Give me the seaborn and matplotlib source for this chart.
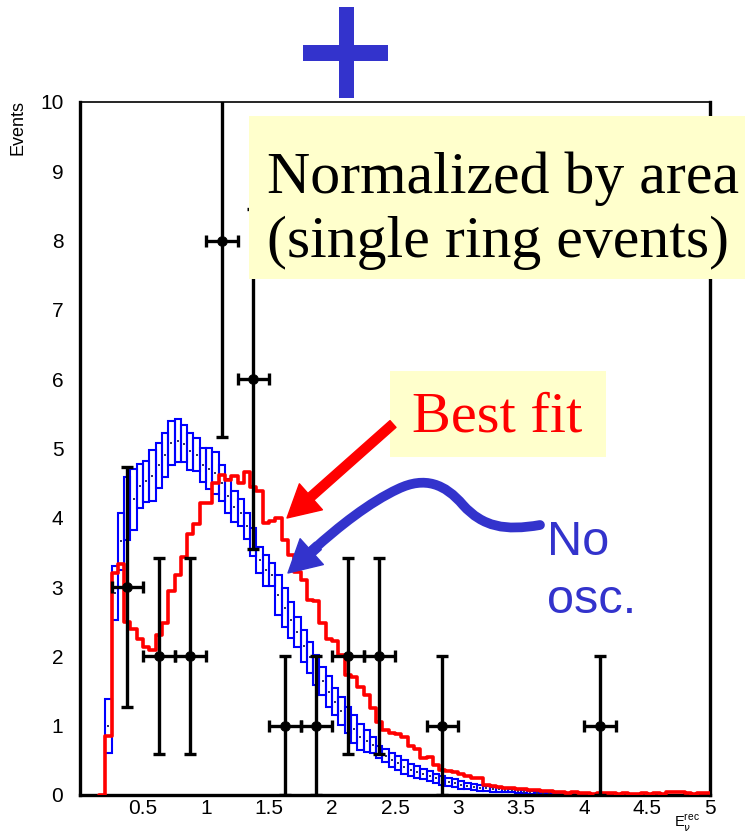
import numpy as np
import pandas as pd
import matplotlib
matplotlib.use("Agg")
import matplotlib.pyplot as plt
import seaborn as sns
from matplotlib.patches import Rectangle, FancyArrowPatch, PathPatch
from matplotlib.path import Path
from matplotlib.ticker import MultipleLocator, FuncFormatter

# ---------------- data ----------------
BIN_W = 0.05

# best-fit expectation (red step histogram), 0.05-wide bins starting at 0.15
red_start = 0.15
red_counts = [
    0.00, 0.85, 3.20, 3.33, 2.50, 2.39, 2.25, 2.13, 2.09, 2.31,
    2.48, 2.95, 3.17, 3.43, 3.77, 3.91, 4.21, 4.21, 4.50, 4.62,
    4.55, 4.60, 4.50, 4.66, 4.45, 4.39, 3.93, 3.95, 4.00, 3.68,
    3.46, 3.22, 3.10, 2.82, 2.80, 2.48, 2.25, 2.22, 2.02, 1.73,
    1.70, 1.56, 1.44, 1.25, 1.06, 0.94, 0.89, 0.88, 0.84, 0.70,
    0.67, 0.53, 0.55, 0.43, 0.36, 0.35, 0.33, 0.31, 0.27, 0.25,
    0.24, 0.14, 0.13, 0.11, 0.10, 0.10, 0.09, 0.08, 0.07, 0.07,
    0.06, 0.06, 0.04, 0.04, 0.03, 0.04, 0.03, 0.03, 0.02, 0.03,
    0.03, 0.03, 0.02, 0.03, 0.02, 0.02, 0.03, 0.02, 0.03, 0.02,
    0.04, 0.05, 0.04, 0.03, 0.02, 0.03, 0.03,
]

# no-oscillation expectation (blue error boxes), 0.05-wide bins starting at 0.20
blue_start = 0.20
blue_low = [
    0.60, 2.52, 3.25, 3.68, 3.83, 4.14, 4.23, 4.24, 4.43, 4.59,
    4.76, 4.81, 4.80, 4.69, 4.67, 4.51, 4.42, 4.34, 4.24, 4.07,
    3.94, 3.88, 3.70, 3.45, 3.20, 3.02, 3.01, 2.60, 2.43, 2.26,
    2.14, 1.92, 1.76, 1.59, 1.44, 1.27, 1.15, 1.01, 0.89, 0.75,
    0.65, 0.62, 0.60, 0.53, 0.47, 0.41, 0.36, 0.31, 0.27, 0.25,
    0.23, 0.20, 0.18, 0.15, 0.13, 0.11, 0.09, 0.08, 0.07, 0.06,
    0.06, 0.05, 0.05, 0.04, 0.04, 0.03, 0.03, 0.02, 0.02, 0.02,
    0.01, 0.01, 0.01, 0.01, 0.01, 0.00, 0.00, 0.00, 0.00, 0.00, 0.00,
]
blue_high = [
    1.38, 3.30, 4.07, 4.59, 4.70, 4.78, 4.82, 4.98, 5.08, 5.23,
    5.40, 5.42, 5.34, 5.23, 5.15, 5.00, 5.00, 4.95, 4.76, 4.56,
    4.38, 4.27, 4.07, 3.85, 3.58, 3.46, 3.35, 3.17, 2.98, 2.79,
    2.57, 2.38, 2.21, 2.02, 1.85, 1.71, 1.54, 1.42, 1.27, 1.15,
    1.03, 0.94, 0.83, 0.70, 0.66, 0.61, 0.56, 0.50, 0.45, 0.42,
    0.37, 0.34, 0.31, 0.28, 0.25, 0.23, 0.20, 0.18, 0.16, 0.15,
    0.13, 0.12, 0.11, 0.10, 0.09, 0.08, 0.07, 0.06, 0.05, 0.05,
    0.04, 0.04, 0.03, 0.03, 0.03, 0.02, 0.02, 0.02, 0.02, 0.01, 0.01,
]

# observed events (0.25-wide bins)
data_x = [0.375, 0.625, 0.875, 1.125, 1.375, 1.625, 1.875, 2.125, 2.375, 2.875, 4.125]
data_n = [3, 2, 2, 8, 6, 1, 1, 2, 2, 1, 1]
data_xerr = 0.125

# ---------------- style ----------------
sns.set_theme(style="white")
plt.rcParams["font.family"] = ["Liberation Sans", "DejaVu Sans"]
plt.rcParams["text.color"] = "black"
plt.rcParams["xtick.color"] = "black"
plt.rcParams["ytick.color"] = "black"

RED = "#FF0000"
BLUE = "#0000FF"
INK = "#3333CC"
PALE = "#FFFFCC"

W, H = 745, 833
fig = plt.figure(figsize=(W / 100, H / 100), dpi=100)
ax = fig.add_axes([80 / W, 1 - 795 / H, 630 / W, 693 / H])


def fx(px):
    return px / W


def fy(py):
    return 1 - py / H


# red best-fit histogram
red_edges = red_start + BIN_W * np.arange(len(red_counts) + 1)
red_df = pd.DataFrame({"energy": red_edges[:-1] + BIN_W / 2,
                       "events": np.array(red_counts, dtype=float)})
sns.histplot(data=red_df, x="energy", weights="events", bins=list(red_edges),
             element="step", fill=False, color=RED, linewidth=2.6, ax=ax, zorder=3)

# blue no-oscillation boxes
blue_lo = np.array(blue_low)
blue_hi = np.array(blue_high)
blue_centers = blue_start + BIN_W * (np.arange(len(blue_lo)) + 0.5)
ax.bar(blue_centers, blue_hi - blue_lo, bottom=blue_lo, width=BIN_W, fill=False,
       edgecolor=BLUE, linewidth=1.5, zorder=2)
ax.scatter(blue_centers, (blue_lo + blue_hi) / 2, s=1.5, marker="s",
           color="#333366", linewidths=0, zorder=2)

# observed data with Poisson errors
dx = np.array(data_x)
dn = np.array(data_n, dtype=float)
ax.errorbar(dx, dn, yerr=np.sqrt(dn), xerr=data_xerr, fmt="none", ecolor="black",
            elinewidth=2.4, capsize=4.5, capthick=2.4, zorder=4)
sns.scatterplot(x=dx, y=dn, color="black", s=50, edgecolor="black", ax=ax, zorder=5)

# axes
ax.set_xlim(0, 5)
ax.set_ylim(0, 10)
ax.set_xlabel("")
ax.set_ylabel("")
ax.xaxis.set_major_locator(MultipleLocator(0.5))
ax.xaxis.set_minor_locator(MultipleLocator(0.1))
ax.yaxis.set_major_locator(MultipleLocator(1))
ax.yaxis.set_minor_locator(MultipleLocator(0.2))
ax.xaxis.set_major_formatter(FuncFormatter(lambda v, p: "" if abs(v) < 1e-9 else f"{v:g}"))
ax.yaxis.set_major_formatter(FuncFormatter(lambda v, p: f"{v:g}"))
ax.tick_params(which="both", direction="in", top=False, right=False, colors="black",
               labelsize=15)
ax.tick_params(which="major", length=11, width=1.3)
ax.tick_params(which="minor", length=6, width=1.0)
ax.tick_params(axis="y", pad=12)
ax.tick_params(axis="x", pad=3)
for side in ("left", "bottom", "right"):
    ax.spines[side].set_linewidth(2.4)
    ax.spines[side].set_color("black")
ax.spines["top"].set_linewidth(1.2)
ax.spines["top"].set_color("black")

fig.text(fx(18), fy(100), "Events", rotation=90, ha="center", va="top", fontsize=13)
fig.text(fx(700), fy(834), r"E$_{\nu}^{\mathregular{rec}}$", ha="right", va="bottom",
         fontsize=10.5)

# big plus sign above the frame
fig.patches.append(Rectangle((fx(303), fy(61)), (388 - 303) / W, 16 / H,
                             transform=fig.transFigure, facecolor=INK, edgecolor="none"))
fig.patches.append(Rectangle((fx(339), fy(98)), 15 / W, 91 / H,
                             transform=fig.transFigure, facecolor=INK, edgecolor="none"))

# note box
fig.patches.append(Rectangle((fx(249), fy(279)), (W - 249) / W, (279 - 116) / H,
                             transform=fig.transFigure, facecolor=PALE,
                             edgecolor="none", zorder=10))
serif = ["Liberation Serif", "DejaVu Serif"]
fig.text(fx(267), fy(193), "Normalized by area", fontsize=43, family=serif,
         color="black", va="baseline", ha="left", zorder=11)
fig.text(fx(267), fy(257), "(single ring events)", fontsize=43, family=serif,
         color="black", va="baseline", ha="left", zorder=11)

# best fit label
fig.patches.append(Rectangle((fx(390), fy(457)), (606 - 390) / W, (457 - 371) / H,
                             transform=fig.transFigure, facecolor=PALE,
                             edgecolor="none", zorder=10))
fig.text(fx(412), fy(432), "Best fit", fontsize=42, family=serif, color=RED,
         va="baseline", ha="left", zorder=11)
fig.patches.append(FancyArrowPatch(
    (fx(393), fy(424)), (fx(287), fy(518)), transform=fig.transFigure,
    arrowstyle="simple,head_length=2.3,head_width=2.5,tail_width=0.65",
    mutation_scale=10, color=RED, shrinkA=0, shrinkB=0, zorder=10))

# no oscillation label with curved pointer
fig.text(fx(547), fy(555), "No", fontsize=35, color=INK, va="baseline", ha="left", zorder=11)
fig.text(fx(547), fy(613), "osc.", fontsize=35, color=INK, va="baseline", ha="left", zorder=11)
curve_px = [(540, 525),
            (505, 531), (483, 527), (463, 505),
            (445, 484), (425, 476), (398, 489),
            (370, 502), (338, 527), (313, 550)]
codes = [Path.MOVETO] + [Path.CURVE4] * 9
curve = Path([(fx(a), fy(b)) for a, b in curve_px], codes)
fig.patches.append(PathPatch(curve, transform=fig.transFigure, facecolor="none",
                             edgecolor=INK, linewidth=7, capstyle="round", zorder=10))
fig.patches.append(FancyArrowPatch(
    (fx(318), fy(546)), (fx(288), fy(573)), transform=fig.transFigure,
    arrowstyle="simple,head_length=2.3,head_width=2.5,tail_width=0.7",
    mutation_scale=10, color=INK, shrinkA=0, shrinkB=0, zorder=10))

fig.savefig("out.png", dpi=100, facecolor="white")
